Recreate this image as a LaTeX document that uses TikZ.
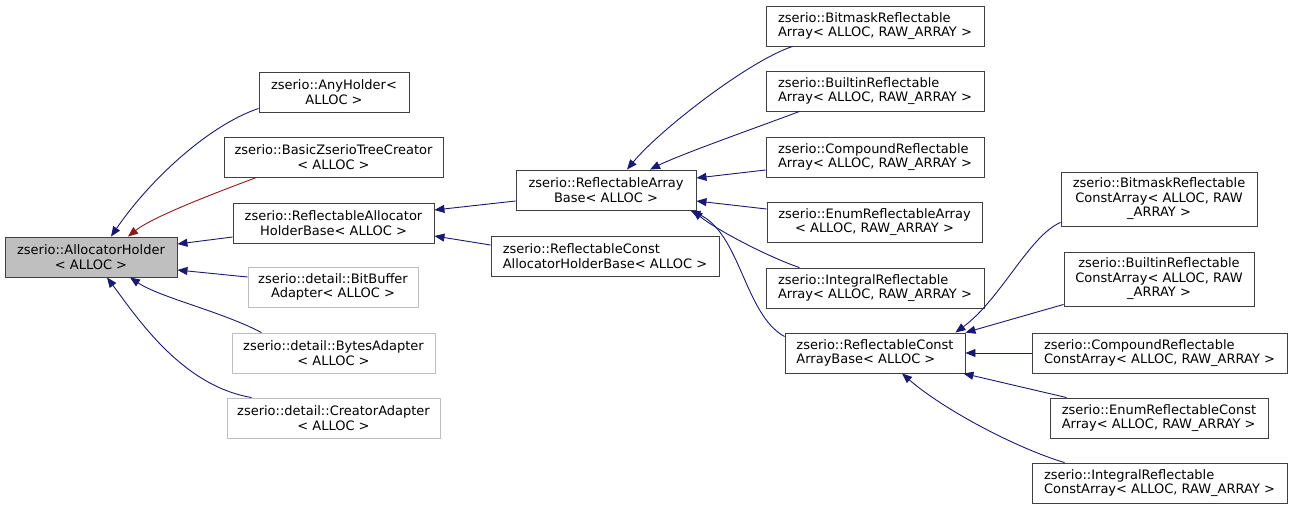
\documentclass[tikz,border=0pt]{standalone}
\usepackage{fontspec}
\setmainfont{DejaVu Sans}
\usetikzlibrary{arrows.meta,positioning}
\definecolor{grey25}{HTML}{404040}
\definecolor{grey75}{HTML}{BFBFBF}
\definecolor{midblue}{HTML}{191970}
\definecolor{firebrick}{HTML}{8B1A1A}
\tikzset{
  dx/class/.style={draw=grey25, line width=0.9pt, rectangle, inner xsep=5pt, inner ysep=0pt,
    minimum height=40pt, align=center, font=\fontsize{13}{14.5}\selectfont},
  dx/left/.style={dx/class, align=left},
  dx/undoc/.style={dx/class, draw=grey75},
  dx/root/.style={dx/class, fill=grey75},
  dx/inh/.style={draw=midblue, line width=0.9pt, -{Triangle[length=10pt, width=8pt]}},
  dx/prot/.style={dx/inh, draw=firebrick}
}
\newcommand{\rawarr}{RAW\_ARRAY}

\begin{document}
\begin{tikzpicture}[x=1pt, y=-1pt]
  \useasboundingbox (0,0) rectangle (1292,509);

  % base class
  \node[dx/root, minimum width=172pt] (alloc) at (91,257) {zserio::AllocatorHolder\\< ALLOC >};

  % direct subclasses
  \node[dx/class, minimum width=150pt] (anyh) at (334,92) {zserio::AnyHolder<\\ALLOC >};
  \node[dx/class, minimum width=219pt] (tree) at (333.5,157) {zserio::BasicZserioTreeCreator\\< ALLOC >};
  \node[dx/class, minimum width=201pt] (rahb) at (333.5,223) {zserio::ReflectableAllocator\\HolderBase< ALLOC >};
  \node[dx/undoc, minimum width=170pt] (bitbuf) at (333,287) {zserio::detail::BitBuffer\\Adapter< ALLOC >};
  \node[dx/undoc, minimum width=203pt] (bytes) at (333.5,353) {zserio::detail::BytesAdapter\\< ALLOC >};
  \node[dx/undoc, minimum width=213pt] (creator) at (333.5,418) {zserio::detail::CreatorAdapter\\< ALLOC >};

  \node[dx/class, minimum width=180pt] (rab) at (606,190) {zserio::ReflectableArray\\Base< ALLOC >};
  \node[dx/left, minimum width=228pt] (rcahb) at (605,256) {zserio::ReflectableConst\\AllocatorHolderBase< ALLOC >};

  % array classes
  \node[dx/left, minimum width=218pt] (bmra) at (875,26) {zserio::BitmaskReflectable\\Array< ALLOC, \rawarr{} >};
  \node[dx/left, minimum width=218pt] (bira) at (875,91) {zserio::BuiltinReflectable\\Array< ALLOC, \rawarr{} >};
  \node[dx/left, minimum width=218pt] (cora) at (875,157) {zserio::CompoundReflectable\\Array< ALLOC, \rawarr{} >};
  \node[dx/class, minimum width=215pt] (enra) at (874.5,222) {zserio::EnumReflectableArray\\< ALLOC, \rawarr{} >};
  \node[dx/left, minimum width=218pt] (inra) at (875,288) {zserio::IntegralReflectable\\Array< ALLOC, \rawarr{} >};
  \node[dx/left, minimum width=180pt] (rcab) at (875,353) {zserio::ReflectableConst\\ArrayBase< ALLOC >};

  % const array classes
  \node[dx/class, minimum width=196pt, minimum height=54pt] (bmrca) at (1159,199) {zserio::BitmaskReflectable\\ConstArray< ALLOC, RAW\\\_ARRAY >};
  \node[dx/class, minimum width=190pt, minimum height=54pt] (birca) at (1159,279) {zserio::BuiltinReflectable\\ConstArray< ALLOC, RAW\\\_ARRAY >};
  \node[dx/left, minimum width=255pt] (corca) at (1159.5,353) {zserio::CompoundReflectable\\ConstArray< ALLOC, \rawarr{} >};
  \node[dx/left, minimum width=218pt] (enrca) at (1159,418) {zserio::EnumReflectableConst\\Array< ALLOC, \rawarr{} >};
  \node[dx/left, minimum width=255pt] (inrca) at (1159.5,483) {zserio::IntegralReflectable\\ConstArray< ALLOC, \rawarr{} >};

  % inheritance edges
  \draw[dx/inh] ([yshift=4pt]anyh.south west) .. controls +(-50,17) and +(39,-57) .. ([xshift=20pt]alloc.north);
  \draw[dx/prot] ([xshift=33pt]tree.south west) .. controls +(-40,15) and +(25,-20) .. ([xshift=37pt]alloc.north);
  \draw[dx/inh] ([yshift=-14pt]rahb.west) -- ([yshift=13pt]alloc.east);
  \draw[dx/inh] ([yshift=10pt]bitbuf.west) -- ([yshift=-13pt]alloc.east);
  \draw[dx/inh] ([xshift=30pt]bytes.north west) .. controls +(-40,-21) and +(30,20) .. ([xshift=39pt]alloc.south);
  \draw[dx/inh] ([xshift=25pt]creator.north west) .. controls +(-70,-12) and +(30,40) .. ([xshift=16pt]alloc.south);

  \draw[dx/inh] ([yshift=-11pt]rab.west) -- ([yshift=13pt]rahb.east);
  \draw[dx/inh] ([yshift=11pt]rcahb.west) -- ([yshift=-13pt]rahb.east);

  \draw[dx/inh] ([xshift=27pt]bmra.south west) .. controls +(-43,14) and +(33,-40) .. ([xshift=21pt]rab.north);
  \draw[dx/inh] ([xshift=34pt]bira.south west) .. controls +(-40,15) and +(30,-15) .. ([xshift=44pt]rab.north);
  \draw[dx/inh] ([yshift=-13pt]cora.west) -- ([yshift=12pt]rab.east);
  \draw[dx/inh] ([yshift=13pt]enra.west) -- ([yshift=-11pt]rab.east);
  \draw[dx/inh] ([xshift=34pt]inra.north west) .. controls +(-30,-10) and +(25,20) .. ([xshift=-4pt]rab.south east);
  \draw[dx/inh] ([yshift=-4pt]rcab.north west) .. controls +(-40,-22) and +(50,23) .. ([xshift=-6pt]rab.south east);

  \draw[dx/inh] ([yshift=4pt]bmrca.south west) .. controls +(-31,13) and +(45,-33) .. ([xshift=-10pt]rcab.north east);
  \draw[dx/inh] ([yshift=2pt]birca.south west) -- (rcab.north east);
  \draw[dx/inh] (corca.west) -- (rcab.east);
  \draw[dx/inh] ([xshift=17pt]enrca.north west) -- ([xshift=-2pt]rcab.south east);
  \draw[dx/inh] ([xshift=33pt]inrca.north west) .. controls +(-50,-15) and +(40,35) .. ([xshift=27pt]rcab.south);
\end{tikzpicture}
\end{document}
